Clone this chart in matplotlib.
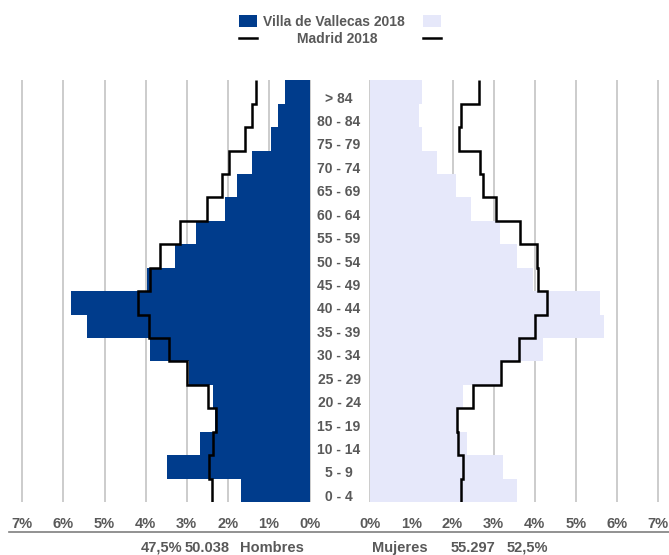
import numpy as np
import matplotlib
matplotlib.use("Agg")
import matplotlib.pyplot as plt
from matplotlib import transforms
from matplotlib.patches import Rectangle
from matplotlib.lines import Line2D

plt.rcParams["font.family"] = ["Liberation Sans", "DejaVu Sans"]

# age groups, bottom to top
ages = ["0 - 4", "5 - 9", "10 - 14", "15 - 19", "20 - 24", "25 - 29",
        "30 - 34", "35 - 39", "40 - 44", "45 - 49", "50 - 54", "55 - 59",
        "60 - 64", "65 - 69", "70 - 74", "75 - 79", "80 - 84", "> 84"]

# % of population, Villa de Vallecas 2018
men_vallecas = [1.68, 3.47, 2.67, 2.32, 2.37, 2.95, 3.89, 5.43, 5.81,
                3.96, 3.29, 2.78, 2.06, 1.78, 1.41, 0.96, 0.79, 0.61]
women_vallecas = [3.57, 3.23, 2.35, 2.12, 2.26, 3.15, 4.19, 5.68, 5.59,
                  3.97, 3.57, 3.16, 2.45, 2.09, 1.62, 1.25, 1.19, 1.25]

# % of population, Madrid 2018
men_madrid = [2.38, 2.46, 2.36, 2.29, 2.49, 3.00, 3.42, 3.92, 4.18,
              3.90, 3.64, 3.17, 2.51, 2.15, 1.98, 1.57, 1.40, 1.31]
women_madrid = [2.21, 2.26, 2.14, 2.12, 2.50, 3.18, 3.62, 4.01, 4.29,
                4.07, 4.05, 3.64, 3.06, 2.75, 2.68, 2.17, 2.21, 2.64]

pct_ticks = [0, 1, 2, 3, 4, 5, 6, 7]
tick_labels = [f"{t}%" for t in pct_ticks]

BLUE = "#003C8C"
LAVENDER = "#E6E8FA"
GRID = "#BFBFBF"
TEXT = "#595959"

W, H = 669, 555
fig = plt.figure(figsize=(W / 100, H / 100), dpi=100)


def px_rect(x0, x1, y0, y1):
    return [x0 / W, 1 - y1 / H, (x1 - x0) / W, (y1 - y0) / H]


ax_m = fig.add_axes(px_rect(22.3, 310, 80.3, 502))
ax_f = fig.add_axes(px_rect(370.3, 658, 80.3, 502))

y = np.arange(len(ages))
edges = np.arange(len(ages) + 1) - 0.5

for ax, vals, madrid, col in [(ax_m, men_vallecas, men_madrid, BLUE),
                              (ax_f, women_vallecas, women_madrid, LAVENDER)]:
    ax.vlines(pct_ticks, -0.5, len(ages) - 0.5, color=GRID, lw=1.1,
              zorder=0, clip_on=False)
    ax.barh(y, vals, height=1.0, color=col, edgecolor="none", zorder=1)
    ax.stairs(madrid, edges, orientation="horizontal", baseline=None,
              color="black", lw=1.8, zorder=3)
    ax.set_ylim(-0.5, len(ages) - 0.5)
    ax.set_yticks([])
    ax.set_xticks(pct_ticks)
    ax.set_xticklabels(tick_labels, fontsize=10.5, fontweight="bold",
                       color=TEXT)
    ax.tick_params(axis="x", length=0, pad=11)
    for s in ax.spines.values():
        s.set_visible(False)
    ax.set_facecolor("none")

ax_m.set_xlim(7, 0)
ax_f.set_xlim(0, 7)

# age labels in the gap between the two halves
tr = transforms.blended_transform_factory(fig.transFigure, ax_m.transData)
for yi, lab in zip(y, ages):
    fig.text(339 / W, yi - 0.28, lab, transform=tr, ha="center", va="center",
             fontsize=10, fontweight="bold", color=TEXT)

# axis rule under tick labels
fig.add_artist(Line2D([9 / W, 1.0], [1 - 532.3 / H] * 2, color="#7F7F7F",
                      lw=1.2, transform=fig.transFigure))

# totals row
yb = 1 - 548 / H
for x, s in [(140.7, "47,5%"), (185, "50.038"), (240, "Hombres"),
             (371.7, "Mujeres"), (450.7, "55.297"), (506.7, "52,5%")]:
    fig.text(x / W, yb, s, ha="left", va="center", fontsize=10.5,
             fontweight="bold", color=TEXT)

# legend
fig.add_artist(Rectangle((239.3 / W, 1 - 27.3 / H), 18 / W, 12.3 / H,
                         facecolor=BLUE, edgecolor="none",
                         transform=fig.transFigure))
fig.add_artist(Rectangle((423.3 / W, 1 - 27.3 / H), 18 / W, 12.3 / H,
                         facecolor=LAVENDER, edgecolor="none",
                         transform=fig.transFigure))
fig.text(263.3 / W, 1 - 21.7 / H, "Villa de Vallecas 2018", ha="left",
         va="center", fontsize=10, fontweight="bold", color=TEXT)
for x0 in (239.3, 423.3):
    fig.add_artist(Line2D([x0 / W, (x0 + 18) / W], [1 - 38.3 / H] * 2,
                          color="black", lw=1.8, transform=fig.transFigure))
fig.text(337 / W, 1 - 39.3 / H, "Madrid 2018", ha="center", va="center",
         fontsize=10, fontweight="bold", color=TEXT)

fig.savefig("out.png", dpi=100)
